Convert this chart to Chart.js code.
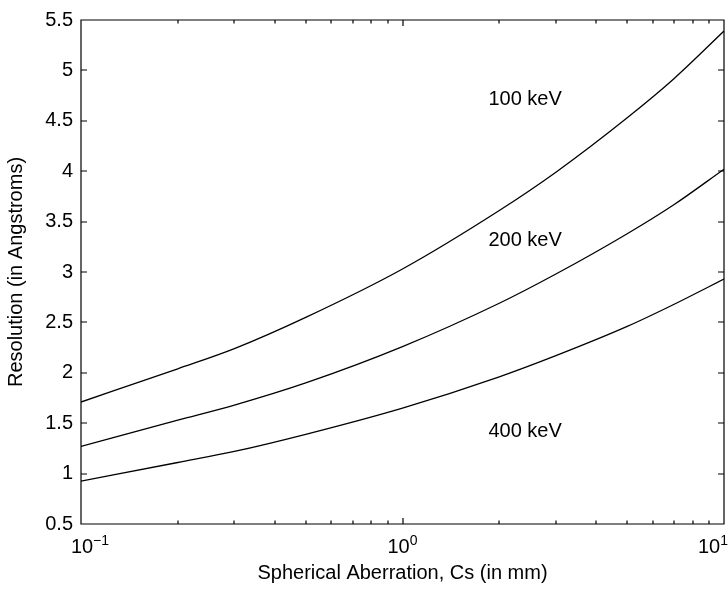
<!DOCTYPE html>
<html>
<head>
<meta charset="utf-8">
<script src="https://cdn.jsdelivr.net/npm/chart.js@4/dist/chart.umd.min.js"></script>
<style>
  body { margin: 0; background: #fff; }
  canvas { display: block; }
</style>
</head>
<body>
<canvas id="myChart" width="728" height="590"></canvas>
<script>
// DATA
const csValues = [0.1, 0.2, 0.3, 0.5, 1, 2, 3, 5, 7, 10];
const res100 = [1.71, 2.04, 2.24, 2.55, 3.03, 3.61, 3.99, 4.53, 4.92, 5.39];
const res200 = [1.27, 1.53, 1.68, 1.90, 2.26, 2.69, 2.98, 3.38, 3.67, 4.02];
const res400 = [0.925, 1.11, 1.22, 1.39, 1.65, 1.96, 2.17, 2.46, 2.68, 2.93];

const curveLabels = ['100 keV', '200 keV', '400 keV'];
const labelX = [1.85, 1.85, 1.85];
const labelY = [4.71, 3.31, 1.42];

const xMajor = [0.1, 1, 10];
const xExponents = ['\u22121', '0', '1'];
const xMinor = [0.2, 0.3, 0.4, 0.5, 0.6, 0.7, 0.8, 0.9, 2, 3, 4, 5, 6, 7, 8, 9];
const yTicks = [0.5, 1, 1.5, 2, 2.5, 3, 3.5, 4, 4.5, 5, 5.5];

const FONT = '"Liberation Sans", Arial, Helvetica, sans-serif';

function points(ys) {
    return csValues.map((c, i) => ({ x: c, y: ys[i] }));
}

// FRAME, INWARD TICKS, X LABELS AND CURVE NAMES
const frame = {
    id: 'frame',
    afterDraw(chart) {
        const { ctx, chartArea: a, scales } = chart;
        const x = scales.x, y = scales.y;
        ctx.save();
        ctx.strokeStyle = '#000';
        ctx.lineWidth = 1.2;
        ctx.beginPath();
        ctx.rect(a.left, a.top, a.right - a.left, a.bottom - a.top);
        yTicks.forEach(v => {
            const py = Math.round(y.getPixelForValue(v));
            ctx.moveTo(a.left, py); ctx.lineTo(a.left + 6, py);
            ctx.moveTo(a.right, py); ctx.lineTo(a.right - 6, py);
        });
        xMajor.concat(xMinor).forEach(v => {
            const px = Math.round(x.getPixelForValue(v));
            const len = xMajor.includes(v) ? 6 : 3.5;
            ctx.moveTo(px, a.bottom); ctx.lineTo(px, a.bottom - len);
            ctx.moveTo(px, a.top); ctx.lineTo(px, a.top + len);
        });
        ctx.stroke();

        // 10^n labels
        ctx.fillStyle = '#000';
        ctx.textBaseline = 'alphabetic';
        ctx.textAlign = 'left';
        xMajor.forEach((v, i) => {
            const px = x.getPixelForValue(v);
            ctx.font = '20px ' + FONT;
            const wBase = ctx.measureText('10').width;
            ctx.font = '14px ' + FONT;
            const wExp = ctx.measureText(xExponents[i]).width;
            let start = i === 0 ? px - wBase / 2 + 1 : px - (wBase + wExp) / 2;
            if (start + wBase + wExp > chart.width) start = chart.width - wBase - wExp;
            ctx.font = '20px ' + FONT;
            ctx.fillText('10', start, 553);
            ctx.font = '14px ' + FONT;
            ctx.fillText(xExponents[i], start + wBase, 545);
        });

        // curve names
        ctx.font = '20px ' + FONT;
        ctx.textBaseline = 'middle';
        curveLabels.forEach((t, i) => {
            ctx.fillText(t, x.getPixelForValue(labelX[i]), y.getPixelForValue(labelY[i]));
        });
        ctx.restore();
    }
};

const lineStyle = {
    borderColor: '#000',
    backgroundColor: '#000',
    borderWidth: 1.3,
    pointRadius: 0,
    fill: false,
    cubicInterpolationMode: 'monotone'
};

const ctx = document.getElementById('myChart').getContext('2d');
const myChart = new Chart(ctx, {
    type: 'line',
    data: {
        datasets: [
            { label: curveLabels[0], data: points(res100), ...lineStyle },
            { label: curveLabels[1], data: points(res200), ...lineStyle },
            { label: curveLabels[2], data: points(res400), ...lineStyle }
        ]
    },
    options: {
        responsive: false,
        animation: false,
        layout: { padding: { left: 0, right: 4, top: 18, bottom: 0 } },
        plugins: { legend: { display: false }, tooltip: { enabled: false } },
        scales: {
            x: {
                type: 'logarithmic',
                min: 0.1,
                max: 10,
                grid: { display: false, drawTicks: false },
                border: { display: false },
                ticks: { display: false },
                title: {
                    display: true,
                    text: 'Spherical Aberration, Cs (in mm)',
                    color: '#000',
                    font: { family: FONT, size: 20, lineHeight: 1.2 },
                    padding: { top: 0, bottom: 5 }
                },
                afterFit: s => { s.height = 66; }
            },
            y: {
                min: 0.5,
                max: 5.5,
                grid: { display: false, drawTicks: false },
                border: { display: false },
                ticks: {
                    stepSize: 0.5,
                    padding: 8,
                    color: '#000',
                    font: { family: FONT, size: 20 },
                    callback: v => String(v)
                },
                title: {
                    display: true,
                    text: 'Resolution (in Angstroms)',
                    color: '#000',
                    font: { family: FONT, size: 20, lineHeight: 1.2 },
                    padding: { top: 4, bottom: 0 }
                },
                afterFit: s => { s.width = 81; }
            }
        }
    },
    plugins: [frame]
});
</script>
</body>
</html>
